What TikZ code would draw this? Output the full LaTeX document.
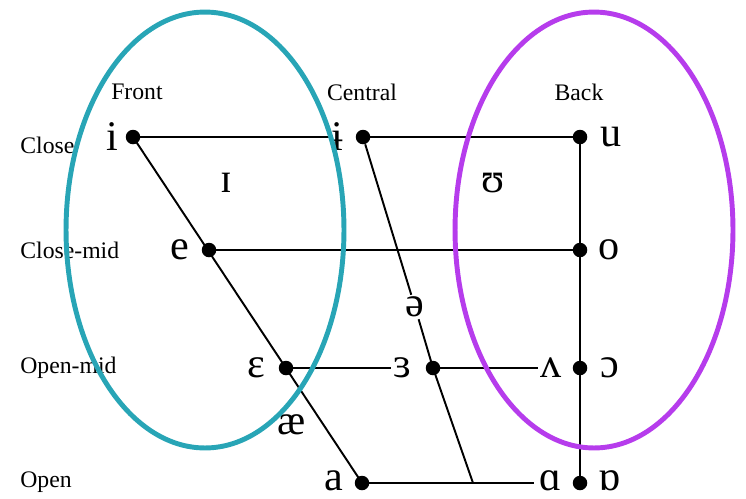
\documentclass[tikz,border=0pt]{standalone}
\usepackage{fontspec}
\setmainfont{Liberation Serif}
\usetikzlibrary{positioning}
\definecolor{frontteal}{RGB}{40,165,182}
\definecolor{backpurple}{RGB}{182,60,236}

\begin{document}
\begin{tikzpicture}[x=0.02cm, y=-0.02cm,
            dot/.style={circle, fill=black, inner sep=0pt, minimum size=0.29cm},
            vowel/.style={font=\fontsize{24}{24}\selectfont, inner sep=1pt},
            lowvowel/.style={vowel, anchor=base, inner sep=0pt},
            height/.style={font=\fontsize{13.5}{13.5}\selectfont, anchor=west, inner sep=0pt},
            column/.style={font=\fontsize{13.5}{13.5}\selectfont, inner sep=0pt},
            edge/.style={line width=1.1pt},
            region/.style={line width=2.8pt}
        ]

        \useasboundingbox (0,0) rectangle (746,498);

        % Zeilen und Spalten
        \node[height] (close) at (20,145) {Close};
        \node[height] (closemid) at (20,250) {Close-mid};
        \node[height] (openmid) at (20,368) {Open-mid};
        \node[height] (open) at (20,482) {Open};
        \node[column] (front) at (137,92) {Front};
        \node[column] (central) at (362,92) {Central};
        \node[column] (back) at (579,92) {Back};

        % Punkte
        \node[dot] (i) at (133,137) {};
        \node[dot] (ibar) at (363,137) {};
        \node[dot] (u) at (580,137) {};
        \node[dot] (e) at (209,250) {};
        \node[dot] (o) at (580,250) {};
        \node[dot] (eps) at (286,368) {};
        \node[dot] (er) at (433,368) {};
        \node[dot] (oo) at (580,368) {};
        \node[dot] (a) at (362,483) {};
        \node[dot] (aa) at (580,483) {};
        \coordinate (mid-open) at (473,483);

        % Vokale
        \node[vowel] (i-l) at (112,137) {i};
        \node[vowel] (ibar-l) at (337,137) {ɨ};
        \node[vowel] (u-l) at (611,137) {u};
        \node[vowel] (ih-l) at (226,183) {ɪ};
        \node[vowel] (uh-l) at (493,183) {ʊ};
        \node[vowel] (e-l) at (180,250) {e};
        \node[vowel] (o-l) at (609,250) {o};
        \node[vowel] (eps-l) at (256,368) {ɛ};
        \node[vowel] (er-l) at (402,368) {ɜ};
        \node[vowel] (wedge-l) at (551,368) {ʌ};
        \node[vowel] (oo-l) at (610,368) {ɔ};
        \node[vowel] (ae-l) at (292,425) {æ};
        \node[vowel] (schwa-l) at (415,307) {ə};
        \node[lowvowel] (a-l) at (334,490) {a};
        \node[lowvowel] (aa-l) at (551,490) {ɑ};
        \node[lowvowel] (ao-l) at (610,490) {ɒ};

        % Linien
        \draw[edge] (i.center) -- (ibar-l.west);
        \draw[edge] (ibar.center) -- (u.center);
        \draw[edge] (e.center) -- (o.center);
        \draw[edge] (eps.center) -- (er-l.west);
        \draw[edge] (er.center) -- (wedge-l.west);
        \draw[edge] (a.center) -- ([xshift=-0.12cm]aa-l.west |- a);
        \draw[edge] (i.center) -- (a.center);
        \draw[edge] (u.center) -- (aa.center);
        \draw[edge] (ibar) -- (schwa-l);
        \draw[edge] (schwa-l) -- (er.center) -- (mid-open);

        % Bereiche
        \draw[region, frontteal] (205,230) ellipse [x radius=2.78cm, y radius=4.36cm];
        \draw[region, backpurple] (594,230) ellipse [x radius=2.78cm, y radius=4.36cm];

    \end{tikzpicture}
\end{document}
